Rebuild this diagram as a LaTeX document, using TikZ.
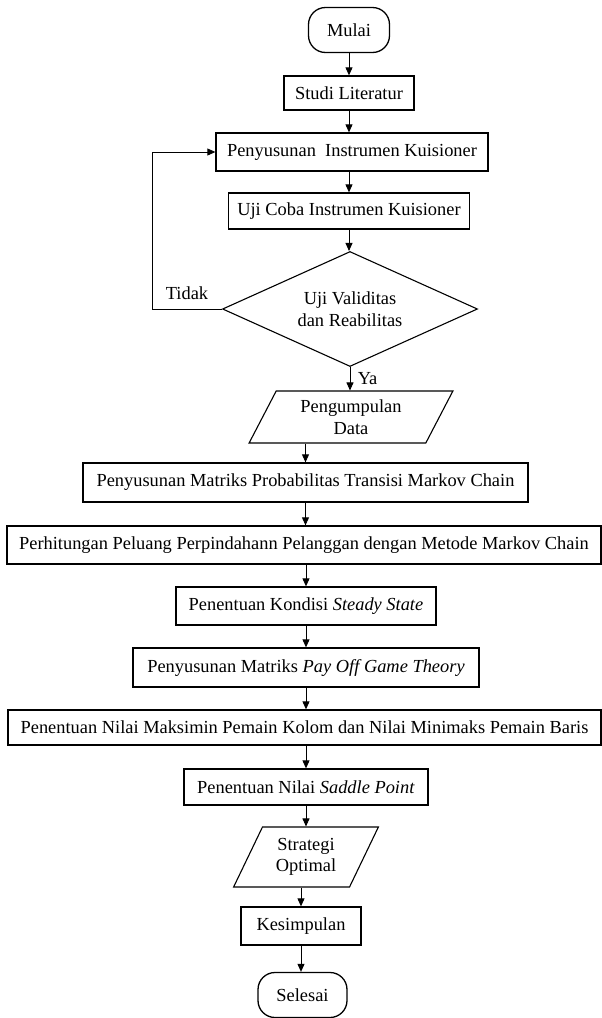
\documentclass[tikz,border=0pt]{standalone}
\usepackage{fontspec}
\setmainfont{Liberation Serif}
\usetikzlibrary{shapes,arrows.meta,calc,positioning}
\tikzstyle{process}=[rectangle,draw=black,line width=1.3pt,inner sep=3pt,align=center]
\tikzstyle{terminal}=[rectangle,rounded corners=17pt,draw=black,line width=1.3pt,align=center]
\tikzstyle{decision}=[diamond,aspect=2.2,draw=black,line width=1.1pt,inner sep=0pt,align=center]
\tikzstyle{datain}=[trapezium,trapezium left angle=62,trapezium right angle=118,
trapezium stretches=true,draw=black,line width=1.1pt,inner sep=0pt,align=center]
\tikzstyle{flow}=[->,line width=0.9pt]

\begin{document}
\begin{tikzpicture}[x=1pt,y=1pt,>={Triangle[length=8pt,width=7pt]},
    font=\rmfamily\fontsize{18.4}{21.5}\selectfont]
    \useasboundingbox (0,0) rectangle (602,-1018);

    \node[terminal,minimum width=81pt,minimum height=45pt](mulai) at (349,-30){Mulai};
    \node[process,minimum width=130pt,minimum height=34pt](studi) at (349,-93){Studi Literatur};
    \node[process,minimum width=272pt,minimum height=38pt](susun) at (352,-152){Penyusunan\ \ Instrumen Kuisioner};
    \node[process,minimum width=241pt,minimum height=36pt](ujicoba) at (349,-211){Uji Coba Instrumen Kuisioner};
    \node[decision,minimum width=255pt,minimum height=115pt](valid) at (350,-309){Uji Validitas\\dan Reabilitas};
    \node[datain,minimum width=204pt,minimum height=52pt](kumpul) at (351,-417){Pengumpulan\\Data};
    \node[process,minimum width=445pt,minimum height=39pt](matriks) at (305.5,-482.5){Penyusunan Matriks Probabilitas Transisi Markov Chain};
    \node[process,minimum width=594pt,minimum height=38pt](hitung) at (304,-545){Perhitungan Peluang Perpindahann Pelanggan dengan Metode Markov Chain};
    \node[process,minimum width=260pt,minimum height=38pt](steady) at (306,-606){Penentuan Kondisi \textit{Steady State}};
    \node[process,minimum width=346pt,minimum height=39pt](payoff) at (306,-667.5){Penyusunan Matriks \textit{Pay Off Game Theory}};
    \node[process,minimum width=593pt,minimum height=35pt](maksimin) at (304.5,-727.5){Penentuan Nilai Maksimin Pemain Kolom dan Nilai Minimaks Pemain Baris};
    \node[process,minimum width=244pt,minimum height=36pt](saddle) at (306,-787){Penentuan Nilai \textit{Saddle Point}};
    \node[datain,minimum width=146pt,minimum height=60pt](strategi) at (306,-857){Strategi\\Optimal};
    \node[process,minimum width=120pt,minimum height=38pt](simpul) at (301,-926){Kesimpulan};
    \node[terminal,minimum width=89pt,minimum height=45pt](selesai) at (302.5,-995){Selesai};

    \coordinate (balik) at (152,-309);
    \node (tidak) at (187,-293){Tidak};

    \draw[flow] (mulai) -- (studi);
    \draw[flow] (studi) -- (studi |- susun.north);
    \draw[flow] (susun.south -| ujicoba) -- (ujicoba);
    \draw[flow] (ujicoba) -- (ujicoba |- valid.north);
    \draw[flow] (valid.south) -- (valid.south |- kumpul.north)
        node[midway,right=4pt]{Ya};
    \draw[line width=0.8pt,->] (valid.west) -- (balik) |- (susun.west);
    \draw[flow] (kumpul.south -| matriks) -- (matriks);
    \draw[flow] (matriks) -- (matriks.south |- hitung.north);
    \draw[flow] (hitung.south -| steady) -- (steady);
    \draw[flow] (steady) -- (payoff);
    \draw[flow] (payoff) -- (payoff.south |- maksimin.north);
    \draw[flow] (maksimin.south -| saddle) -- (saddle);
    \draw[flow] (saddle) -- (strategi);
    \draw[flow] (strategi.south -| simpul) -- (simpul);
    \draw[flow] (simpul) -- (simpul.south |- selesai.north);
\end{tikzpicture}
\end{document}
